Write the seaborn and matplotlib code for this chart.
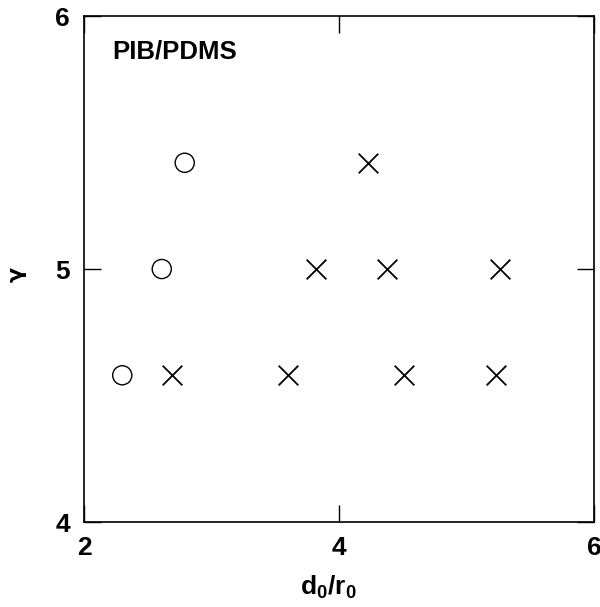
import numpy as np
import pandas as pd
import matplotlib
matplotlib.use('Agg')
import matplotlib.pyplot as plt
import seaborn as sns

# circles
circ_x = [2.30, 2.61, 2.79]
circ_y = [4.58, 5.00, 5.42]
# crosses
cross_x = [2.69, 3.60, 4.51, 5.23, 3.82, 4.38, 5.26, 4.23]
cross_y = [4.58, 4.58, 4.58, 4.58, 5.00, 5.00, 5.00, 5.42]

sns.set_style('ticks', {'axes.edgecolor': 'black', 'text.color': 'black',
                        'xtick.color': 'black', 'ytick.color': 'black',
                        'axes.labelcolor': 'black'})
plt.rcParams['font.family'] = ['Liberation Sans', 'DejaVu Sans']
plt.rcParams['mathtext.fontset'] = 'custom'
plt.rcParams['mathtext.rm'] = 'Liberation Sans:bold'
plt.rcParams['mathtext.it'] = 'Liberation Sans:bold'
plt.rcParams['mathtext.bf'] = 'Liberation Sans:bold'

df_c = pd.DataFrame({'x': circ_x, 'y': circ_y})
df_x = pd.DataFrame({'x': cross_x, 'y': cross_y})

fig = plt.figure(figsize=(6.0, 6.07), dpi=100)
ax = fig.add_axes([0.14, 0.14, 0.85, 0.8336])

sns.scatterplot(data=df_c, x='x', y='y', ax=ax, marker='o', s=190,
                facecolors='none', edgecolor='black', linewidth=1.0)
sns.scatterplot(data=df_x, x='x', y='y', ax=ax, marker='x', s=200,
                color='black', linewidth=1.3)

ax.set_xlim(2, 6)
ax.set_ylim(4, 6)
ax.set_xticks([2, 4, 6])
ax.set_yticks([4, 5, 6])
ax.tick_params(direction='in', length=12, width=1, top=True, right=True,
               labelsize=19, pad=10)
for lab in ax.get_xticklabels() + ax.get_yticklabels():
    lab.set_fontweight('bold')
for sp in ax.spines.values():
    sp.set_linewidth(1.2)

ax.set_xlabel(r'd$_0$/r$_0$', fontsize=19, fontweight='bold', labelpad=10)
ax.xaxis.label.set_x(0.48)
ax.set_ylabel('γ', fontsize=16, fontweight='bold', family='DejaVu Sans',
              va='center')
ax.yaxis.set_label_coords(-0.133, 0.49)
ax.text(0.055, 0.93, 'PIB/PDMS', transform=ax.transAxes, fontsize=18.5,
        fontweight='bold', va='center', ha='left')

fig.savefig('out.png', dpi=100, facecolor='white')
